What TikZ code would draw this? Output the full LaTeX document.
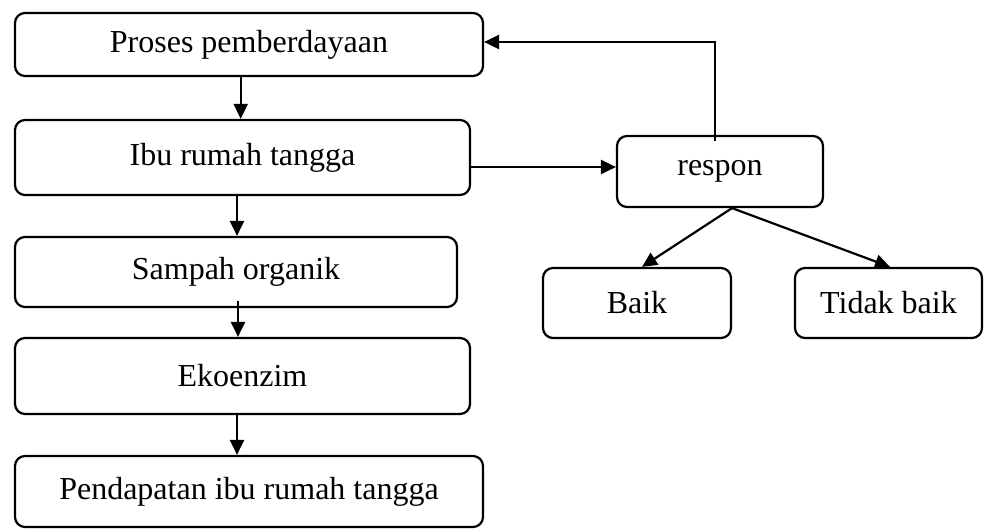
\documentclass[tikz,border=0pt]{standalone}
\usepackage{fontspec}
\setmainfont{Liberation Serif}
\usetikzlibrary{arrows.meta,calc}
\begin{document}
\begin{tikzpicture}[x=1pt,y=-1pt,
  box/.style={draw,line width=2.2pt,rounded corners=10pt,inner sep=0pt,
    font=\fontsize{32}{38}\selectfont},
  arr/.style={line width=2.2pt,-{Triangle[length=15pt,width=14pt]}}]
\useasboundingbox (0,0) rectangle (992,528);
\node[box,minimum width=468pt,minimum height=63pt] (b1) at (249,44.5) {Proses pemberdayaan};
\node[box,minimum width=455pt,minimum height=75pt] (b2) at (242.5,157.5) {Ibu rumah tangga};
\node[box,minimum width=442pt,minimum height=70pt] (b3) at (236,272) {Sampah organik};
\node[box,minimum width=455pt,minimum height=76pt] (b4) at (242.5,376) {Ekoenzim};
\node[box,minimum width=468pt,minimum height=71pt] (b5) at (249,491.5) {Pendapatan ibu rumah tangga};
\node[box,minimum width=206pt,minimum height=71pt] (resp) at (720,171.5) {respon};
\node[box,minimum width=188pt,minimum height=70pt] (baik) at (637,303) {Baik};
\node[box,minimum width=187pt,minimum height=70pt] (tbaik) at (888.5,303) {Tidak baik};
\draw[arr] ([xshift=-8.3pt]b1.south) -- ([xshift=-8.3pt]b1.south |- b2.north);
\draw[arr] ([xshift=-5.5pt]b2.south) -- ([xshift=-5.5pt]b2.south |- b3.north);
\draw[arr] ([xshift=2pt,yshift=7pt]b3.south) -- ([xshift=2pt]b3.south |- b4.north);
\draw[arr] ([xshift=-5.5pt]b4.south) -- ([xshift=-5.5pt]b4.south |- b5.north);
\draw[arr] ([yshift=-9.5pt]b2.east) -- ([yshift=-9.5pt]b2.east -| resp.west);
\draw[arr] ([xshift=-5pt,yshift=-6pt]resp.north) |- ([yshift=2.5pt]b1.east);
\coordinate (rs) at ([xshift=12pt]resp.south);
\draw[arr] (rs) -- ([xshift=5pt]baik.north);
\draw[arr] (rs) -- ([xshift=1.5pt]tbaik.north);
\end{tikzpicture}
\end{document}
